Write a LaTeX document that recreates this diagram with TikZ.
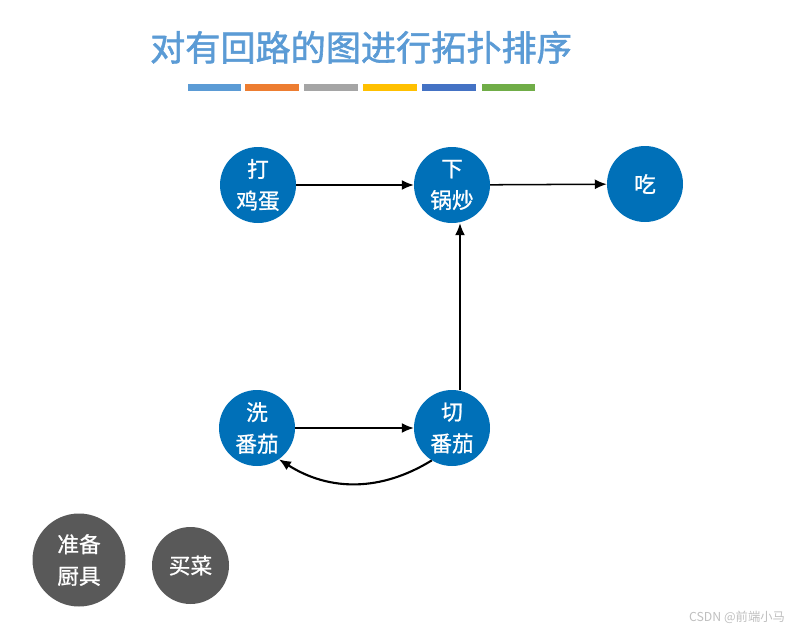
\documentclass[tikz,border=0pt]{standalone}
\usepackage{fontspec}
\setmainfont{Noto Sans CJK SC}
\newfontfamily\titlefont[FakeBold=1.6]{Noto Sans CJK SC}
\newfontfamily\taskfont[FakeBold=0.9]{Noto Sans CJK SC}
\usetikzlibrary{arrows.meta}
\definecolor{nodeblue}{HTML}{0070B8}
\definecolor{nodegray}{HTML}{595959}
\definecolor{titleblue}{HTML}{5B9BD5}
\definecolor{barorange}{HTML}{ED7D31}
\definecolor{bargray}{HTML}{A5A5A5}
\definecolor{baryellow}{HTML}{FFC000}
\definecolor{bardarkblue}{HTML}{4472C4}
\definecolor{bargreen}{HTML}{70AD47}
\begin{document}
\begin{tikzpicture}[
    task/.style={circle, fill=nodeblue, text=white, inner sep=0pt, minimum size=2.28cm,
      align=center, font=\taskfont\fontsize{18.5}{27}\selectfont},
    prep/.style={circle, fill=nodegray, text=white, inner sep=0pt,
      align=center, font=\taskfont\fontsize{18.5}{27}\selectfont},
    arr/.style={-{Latex[length=3.6mm, width=3mm]}, line width=1.3pt, black},
  ]
    \useasboundingbox (0,0) rectangle (24.21,-18.99);

    % --- Title and colour bars ---
    \node[font=\titlefont\fontsize{30}{34}\selectfont, text=titleblue] (title) at (10.83,-1.42) {对有回路的图进行拓扑排序};
    \foreach \c/\xa/\xb in {titleblue/5.64/7.23, barorange/7.35/8.97, bargray/9.12/10.74,
        baryellow/10.89/12.51, bardarkblue/12.66/14.28, bargreen/14.46/16.05}
      \fill[\c] (\xa,-2.52) rectangle (\xb,-2.73);

    % --- Cooking steps ---
    \node[task] (dan)  at (7.74,-5.55)  {打\\鸡蛋};
    \node[task] (chao) at (13.56,-5.55) {下\\锅炒};
    \node[task] (chi)  at (19.35,-5.52) {吃};
    \node[task] (xi)   at (7.71,-12.84) {洗\\番茄};
    \node[task] (qie)  at (13.56,-12.84) {切\\番茄};
    \draw[arr] (dan) -- (chao);
    \draw[arr] (chao) -- (chi);
    \draw[arr] (xi) -- (qie);
    \draw[arr] ([xshift=0.24cm]qie.north) -- ([xshift=0.24cm]chao.south);
    % cycle back
    \draw[arr, line width=1.8pt] (qie.-122) to[bend left=32] (xi.-55);

    % --- Preparation ---
    \node[prep, minimum size=2.79cm] (chuju)  at (2.37,-16.8)   {准备\\厨具};
    \node[prep, minimum size=2.31cm] (maicai) at (5.715,-16.965) {买菜};

    % watermark
    \node[font=\fontsize{10.5}{12}\selectfont, text=black!25] (mark) at (22.11,-18.51) {CSDN @前端小马};
  \end{tikzpicture}
\end{document}
